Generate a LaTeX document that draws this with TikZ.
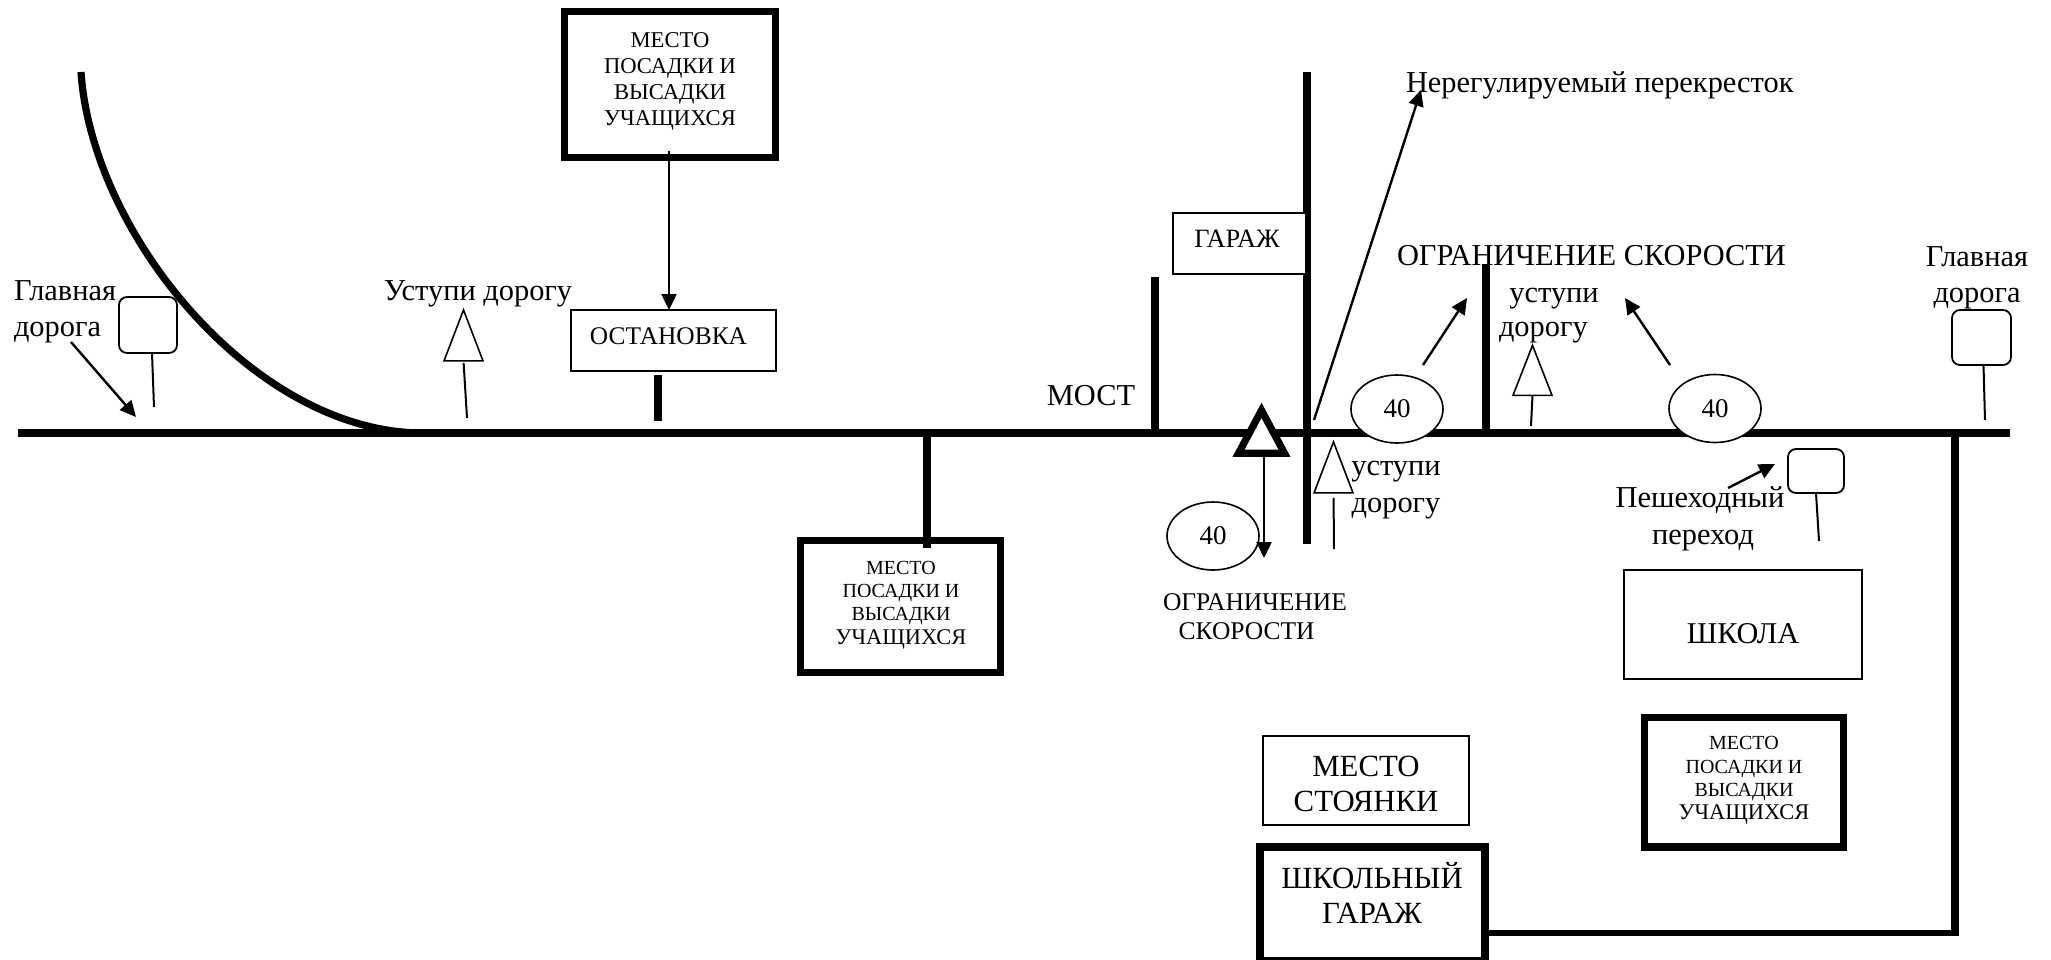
\documentclass[tikz,border=0pt]{standalone}
\usepackage{fontspec}
\setmainfont{Liberation Serif}
\usetikzlibrary{arrows.meta,shapes.geometric}
\newcommand{\fsmain}{\fontsize{15.2}{18.2}\selectfont}
\newcommand{\fssmall}{\fontsize{10}{11.7}\selectfont}
\newcommand{\fslast}{\fontsize{11.2}{11.7}\selectfont}
\newcommand{\fstop}{\fontsize{11.3}{13}\selectfont}
\newcommand{\fsbox}{\fontsize{12.7}{14}\selectfont}
\newcommand{\fsbig}{\fontsize{15.4}{17.5}\selectfont}
\tikzset{
  x=0.5pt,y=-0.5pt,
  road/.style={line width=3.6pt,line cap=butt},
  thinbox/.style={draw,line width=0.9pt,fill=white,inner sep=0pt,outer sep=0pt},
  thickbox/.style={draw,line width=3.6pt,fill=white,inner sep=0pt,outer sep=0pt},
  sign/.style={thinbox,rounded corners=4pt},
  circ/.style={draw,ellipse,line width=0.8pt,fill=white,inner sep=0pt,outer sep=0pt,minimum width=46pt,minimum height=34pt,font=\fontsize{13.5}{14}\selectfont},
  tri/.style={draw,isosceles triangle,isosceles triangle stretches,shape border rotate=90,line width=0.8pt,fill=white,inner sep=0pt,outer sep=0pt},
  pole/.style={line width=1pt},
  arr/.style={line width=1.2pt,-{Triangle[length=8pt,width=7.5pt]}},
  lbl/.style={inner sep=0pt,outer sep=0pt,align=center,font=\fsmain},
  lbase/.style={lbl,anchor=base},
  smalltext/.style={lbl,font=\fssmall},
}
\begin{document}
\begin{tikzpicture}
\clip (0,0) rectangle (2051,959);
% --- free ends
\coordinate (roadL) at (18,433);
\coordinate (roadR) at (2010,433);
\coordinate (curveS) at (81,72);
\coordinate (curveE) at (423,433);
\coordinate (vS) at (1307,72);
\coordinate (vE) at (1307,544);
\coordinate (brS) at (1155,277);
\coordinate (brE) at (1155,433);
\coordinate (midS) at (1486,264);
\coordinate (midE) at (1486,433);
\coordinate (stopS) at (658,375);
\coordinate (stopE) at (658,421);
\coordinate (m2S) at (927,433);
\coordinate (m2E) at (927,548);
\coordinate (rvS) at (1955,433);
\coordinate (rvE) at (1955,936);
\coordinate (rhE) at (1958,933);
% --- upper text that the stick crosses
\node[lbl,anchor=west] (ogr1) at (1397,256) {ОГРАНИЧЕНИЕ СКОРОСТИ};
% --- roads
\draw[road] (roadL) -- (roadR);
\draw[road] (curveS) .. controls (92,235) and (255,433) .. (curveE);
\draw[road] (vS) -- (vE);
\draw[road] (brS) -- (brE);
\draw[road] (midS) -- (midE);
\draw[road] (stopS) -- (stopE);
\draw[road] (rvS) -- (rvE);
% --- boxes
\node[thickbox,minimum width=105.5pt,minimum height=73pt] (b1) at (670,84.5) {};
\node[lbl,font=\fstop] (b1t) at (670,81.5) {МЕСТО\\ПОСАДКИ И\\ВЫСАДКИ\\УЧАЩИХСЯ};
\node[thinbox,minimum width=102.5pt,minimum height=30.5pt] (ost) at (673.5,340.5) {};
\node[lbl,font=\fsbox] (ostt) at (668.5,336) {ОСТАНОВКА};
\node[thickbox,minimum width=99.8pt,minimum height=65.8pt] (b2) at (900.3,606.3) {};
\draw[road] (m2S) -- (m2E);
\node[smalltext] (b2t) at (901,605) {МЕСТО\\ПОСАДКИ И\\ВЫСАДКИ\\\fslast УЧАЩИХСЯ};
\node[thickbox,minimum width=99.5pt,minimum height=64.7pt] (b3) at (1744,782.2) {};
\node[smalltext] (b3t) at (1744,780.5) {МЕСТО\\ПОСАДКИ И\\ВЫСАДКИ\\\fslast УЧАЩИХСЯ};
\node[thinbox,minimum width=66.5pt,minimum height=30.5pt] (gar) at (1239.5,243.5) {};
\node[lbl,font=\fontsize{13.2}{14}\selectfont] (gart) at (1237,239) {ГАРАЖ};
\node[thinbox,minimum width=119pt,minimum height=54.5pt] (sch) at (1743,624.5) {};
\node[lbl,font=\fontsize{15.1}{17}\selectfont] (scht) at (1743,634) {ШКОЛА};
\node[thinbox,minimum width=103pt,minimum height=44.5pt] (park) at (1366,780.5) {};
\node[lbl,font=\fsbig] (parkt) at (1366,783.5) {МЕСТО\\СТОЯНКИ};
\node[thickbox,minimum width=112.5pt,minimum height=57pt] (sg) at (1372.5,904) {};
\node[lbl,font=\fsbig] (sgt) at (1372,892.5) {ШКОЛЬНЫЙ\\ГАРАЖ};
\draw[line width=3.2pt] (sg.east |- rhE) -- (rhE);
% --- signs: rounded
\node[sign,minimum width=29pt,minimum height=28pt] (s1) at (148,325) {};
\coordinate (p1) at (154,407);
\draw[pole] ([xshift=2pt]s1.south) -- (p1);
\node[sign,minimum width=29.5pt,minimum height=27.5pt] (s2) at (1981.5,337.5) {};
\coordinate (p2) at (1985,420);
\draw[pole] ([xshift=1pt]s2.south) -- (p2);
\node[sign,minimum width=28pt,minimum height=22pt] (s3) at (1816,471) {};
\coordinate (p3) at (1819,541);
\draw[pole] (s3.south) -- (p3);
% --- triangles
\node[tri,minimum width=19.5pt,minimum height=25.5pt] (t1) at (463.5,347.5) {};
\coordinate (f1) at (467,418);
\draw[pole,shorten <=1pt] (t1.south) -- (f1);
\node[tri,minimum width=19.5pt,minimum height=25.5pt] (t2) at (1333.5,479.5) {};
\coordinate (f2) at (1334,549);
\draw[pole,shorten <=2.5pt] (t2.south) -- (f2);
\node[tri,minimum width=19.5pt,minimum height=25pt] (t3) at (1532.5,382) {};
\coordinate (f3) at (1531,426);
\draw[pole] (t3.south) -- (f3);
\node[tri,line width=3.6pt,minimum width=23pt,minimum height=21.5pt] (t4) at (1261.5,439.5) {};
% --- ellipses
\node[circ] (e1) at (1213,536) {40};
\node[circ] (e2) at (1397,409) {40};
\node[circ] (e3) at (1715,408.5) {40};
% --- arrows
\coordinate (a1s) at (669,151);
\draw[arr] (a1s) -- (ost.north -| a1s);
\coordinate (a2s) at (71,342); \coordinate (a2e) at (136,417);
\draw[arr] (a2s) -- (a2e);
\coordinate (a3s) at (1264,457); \coordinate (a3e) at (1264,558);
\draw[arr] (a3s) -- (a3e);
\coordinate (a4s) at (1314,420); \coordinate (a4e) at (1421,90);
\draw[arr] (a4s) -- (a4e);
\coordinate (a5s) at (1423,365); \coordinate (a5e) at (1467,298);
\draw[arr] (a5s) -- (a5e);
\coordinate (a6s) at (1670,365); \coordinate (a6e) at (1625,298);
\draw[arr] (a6s) -- (a6e);
\coordinate (a7s) at (1728,488); \coordinate (a7e) at (1775,464);
\draw[arr] (a7s) -- (a7e);
% --- labels
\node[lbl,anchor=west,align=left] (l1) at (14,311.5) {Главная\\дорога};
\node[lbase] (l2) at (478,300) {Уступи дорогу};
\node[lbase] (l3) at (1091,405) {МОСТ};
\node[lbl,anchor=west] (l4) at (1406,85) {Нерегулируемый перекресток};
\node[lbl,anchor=west,align=left,font=\fontsize{15.2}{17}\selectfont] (l5) at (1499,316) {\hspace*{5.2pt}уступи\\дорогу};
\node[lbl] (l6) at (1396,490) {уступи\\дорогу};
\node[lbl] (l7) at (1977,278) {Главная\\дорога};
\node[lbl] (l8) at (1700,519) {Пешеходный\\\hspace*{3pt}переход};
\node[lbl,anchor=west,align=left,font=\fontsize{12.75}{14.4}\selectfont] (l9) at (1163,617) {ОГРАНИЧЕНИЕ\\\hspace*{7.8pt}СКОРОСТИ};
\end{tikzpicture}
\end{document}
